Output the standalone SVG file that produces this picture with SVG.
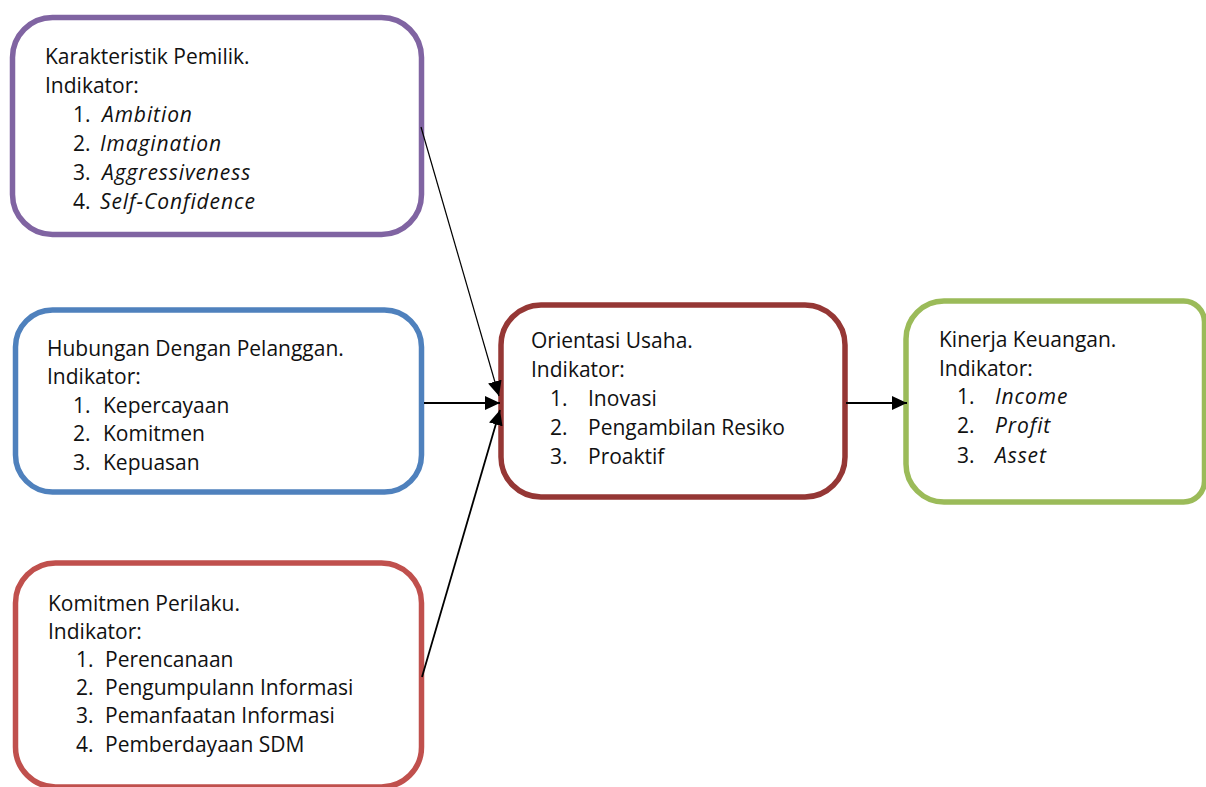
<svg xmlns="http://www.w3.org/2000/svg" width="1206" height="787" viewBox="0 0 1206 787">
<style>
  .box { fill: #ffffff; stroke-width: 5.5; }
  text { font-family: "Open Sans", "Liberation Sans", sans-serif; font-size: 21px; fill: #111111; }
  .it { font-style: italic; letter-spacing: 0.9px; }
  .conn { stroke: #000000; fill: none; }
</style>
<defs>
  <marker id="ah" markerUnits="userSpaceOnUse" markerWidth="15" markerHeight="14" refX="15" refY="7" orient="auto">
    <path d="M0,0 L15,7 L0,14 z" fill="#000000"/>
  </marker>
</defs>
<rect width="1206" height="787" fill="#ffffff"/>

<g id="node-karakteristik">
  <rect class="box" x="12.5" y="17.5" width="409" height="217" rx="40" ry="40" stroke="#8064A2"/>
  <text x="45" y="64">Karakteristik Pemilik.</text>
  <text x="45" y="93">Indikator:</text>
  <text x="73" y="122">1.</text><text class="it" x="102" y="122">Ambition</text>
  <text x="73" y="151">2.</text><text class="it" x="100" y="151">Imagination</text>
  <text x="73" y="180">3.</text><text class="it" x="102" y="180">Aggressiveness</text>
  <text x="73" y="209">4.</text><text class="it" x="100" y="209">Self-Confidence</text>
</g>

<g id="node-hubungan">
  <rect class="box" x="15.5" y="310" width="406" height="182" rx="37" ry="37" stroke="#4F81BD"/>
  <text x="47" y="356">Hubungan Dengan Pelanggan.</text>
  <text x="47" y="384">Indikator:</text>
  <text x="73" y="413">1.</text><text x="103" y="413">Kepercayaan</text>
  <text x="73" y="441">2.</text><text x="103" y="441">Komitmen</text>
  <text x="73" y="470">3.</text><text x="103" y="470">Kepuasan</text>
</g>

<g id="node-komitmen">
  <rect class="box" x="15.5" y="563" width="406" height="224" rx="40" ry="40" stroke="#C0504D"/>
  <text x="48" y="611">Komitmen Perilaku.</text>
  <text x="48" y="639">Indikator:</text>
  <text x="76" y="667">1.</text><text x="105" y="667">Perencanaan</text>
  <text x="76" y="695">2.</text><text x="105" y="695">Pengumpulann Informasi</text>
  <text x="76" y="723">3.</text><text x="105" y="723">Pemanfaatan Informasi</text>
  <text x="76" y="752">4.</text><text x="105" y="752">Pemberdayaan SDM</text>
</g>

<g id="node-orientasi">
  <rect class="box" x="501" y="305" width="344" height="192" rx="40" ry="40" stroke="#953735"/>
  <text x="531" y="348">Orientasi Usaha.</text>
  <text x="531" y="377">Indikator:</text>
  <text x="550" y="406">1.</text><text x="588" y="406">Inovasi</text>
  <text x="550" y="435">2.</text><text x="588" y="435">Pengambilan Resiko</text>
  <text x="550" y="464">3.</text><text x="588" y="464">Proaktif</text>
</g>

<g id="node-kinerja">
  <path class="box" stroke="#9BBB59" d="M944,301 H1183 A21,21 0 0 1 1204.5,322 V481 A21,21 0 0 1 1183,502 H944 A38,38 0 0 1 906,464 V339 A38,38 0 0 1 944,301 Z"/>
  <text x="939" y="347">Kinerja Keuangan.</text>
  <text x="939" y="376">Indikator:</text>
  <text x="957" y="404">1.</text><text class="it" x="995" y="404">Income</text>
  <text x="957" y="433">2.</text><text class="it" x="995" y="433">Profit</text>
  <text x="957" y="463">3.</text><text class="it" x="995" y="463">Asset</text>
</g>

<g id="connectors">
  <line class="conn" x1="421" y1="127" x2="499" y2="396" stroke-width="1.2" marker-end="url(#ah)"/>
  <line class="conn" x1="424" y1="403" x2="500" y2="403" stroke-width="2" marker-end="url(#ah)"/>
  <line class="conn" x1="422" y1="677" x2="500" y2="410" stroke-width="1.8" marker-end="url(#ah)"/>
  <line class="conn" x1="846" y1="403" x2="907" y2="403" stroke-width="2" marker-end="url(#ah)"/>
</g>
</svg>
